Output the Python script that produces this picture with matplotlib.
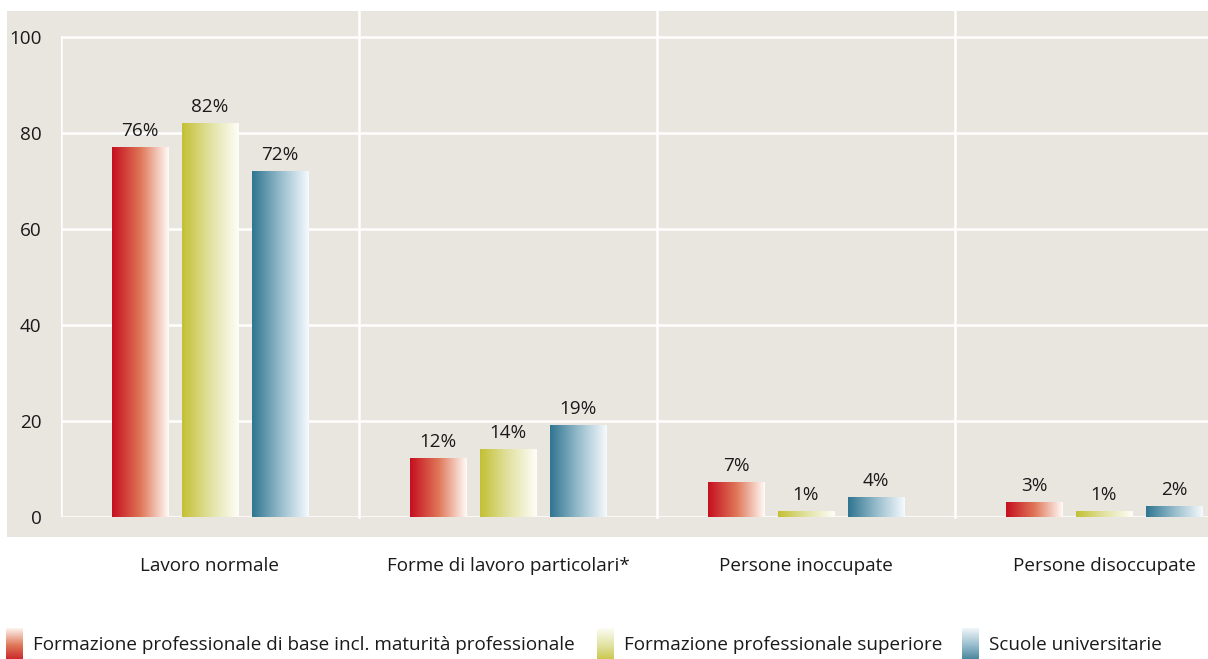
"""
Bar chart: labour market status by education level (gradient bars).
"""

import numpy as np
import matplotlib
matplotlib.use("Agg")
import matplotlib.pyplot as plt
from matplotlib.colors import LinearSegmentedColormap
from matplotlib.patches import Rectangle

# Data
categories = ["Lavoro normale", "Forme di lavoro particolari*",
              "Persone inoccupate", "Persone disoccupate"]
series = ["Formazione professionale di base incl. maturità professionale",
          "Formazione professionale superiore",
          "Scuole universitarie"]
vals_base = [77, 12.3, 7.3, 3.1]
vals_sup = [82, 14.2, 1.3, 1.2]
vals_uni = [72, 19.2, 4.2, 2.3]
labels_base = ["76%", "12%", "7%", "3%"]
labels_sup = ["82%", "14%", "1%", "1%"]
labels_uni = ["72%", "19%", "4%", "2%"]
yticks = [0, 20, 40, 60, 80, 100]

BG = "#e9e6e0"
FS = 13.6
plt.rcParams["font.family"] = ["Open Sans", "DejaVu Sans"]

# gradient colour maps (left -> right)
cmaps = [
    LinearSegmentedColormap.from_list("red", ["#c50f1f", "#df7657", "#fffbf8"]),
    LinearSegmentedColormap.from_list("yel", ["#c3c033", "#e2e2a2", "#fefefa"]),
    LinearSegmentedColormap.from_list("blu", ["#2f7590", "#97bccc", "#f6fafd"]),
]

fig = plt.figure(figsize=(12.08, 6.59), dpi=100)
fig.patches.append(Rectangle((7 / 1208, 122 / 659), 1201 / 1208, 526 / 659,
                             transform=fig.transFigure, facecolor=BG,
                             edgecolor="none", zorder=-10))

ax = fig.add_axes([61 / 1208, 142 / 659, 1147 / 1208, 506 / 659])
ax.set_facecolor("none")
ax.set_xlim(-0.5, 3.349)
ax.set_ylim(0, 105.4)
for s in ax.spines.values():
    s.set_visible(False)

# grid
for y in yticks:
    ax.axhline(y, color="white", lw=1.8, zorder=1)
ax.plot([-0.5, -0.5], [0, 100], color="white", lw=1.8, zorder=1)
for xs in [0.5, 1.5, 2.5]:
    ax.plot([xs, xs], [0, 105.4], color="white", lw=1.8, zorder=1, clip_on=False)

x = np.arange(len(categories))
step = 0.235
width = 0.188
grad = np.linspace(0, 1, 256).reshape(1, -1)

for k, (vals, labs) in enumerate([(vals_base, labels_base),
                                  (vals_sup, labels_sup),
                                  (vals_uni, labels_uni)]):
    pos = x + (k - 1) * step
    bars = ax.bar(pos, vals, width, color="none", edgecolor="none", zorder=2)
    for bar, lab in zip(bars, labs):
        x0, h = bar.get_x(), bar.get_height()
        im = ax.imshow(grad, cmap=cmaps[k], aspect="auto",
                       extent=[x0, x0 + width, 0, h], zorder=2)
        im.set_clip_path(bar)
        ax.annotate(lab, (x0 + width / 2, h), xytext=(0, 5),
                    textcoords="offset points", ha="center", va="bottom",
                    fontsize=FS, color="#1a1a1a")

ax.set_yticks(yticks)
ax.set_yticklabels([str(t) for t in yticks], fontsize=FS, color="#1a1a1a")
ax.set_xticks(x)
ax.set_xticklabels(categories, fontsize=FS, color="#1a1a1a")
ax.tick_params(axis="y", length=0, pad=14)
ax.tick_params(axis="x", length=0, pad=29)

# legend with vertical gradient swatches
vgrad = np.linspace(1, 0, 256).reshape(-1, 1)
leg_x = [6, 597, 962]
for k, (lx, name) in enumerate(zip(leg_x, series)):
    sw = fig.add_axes([lx / 1208, 0, 17 / 1208, 31 / 659])
    sw.imshow(vgrad, cmap=cmaps[k], aspect="auto", vmin=-0.15, vmax=1.0)
    sw.axis("off")
    fig.text((lx + 27) / 1208, 14 / 659, name, fontsize=FS,
             va="center", ha="left", color="#1a1a1a")

plt.savefig("out.png", dpi=100)
plt.close()
